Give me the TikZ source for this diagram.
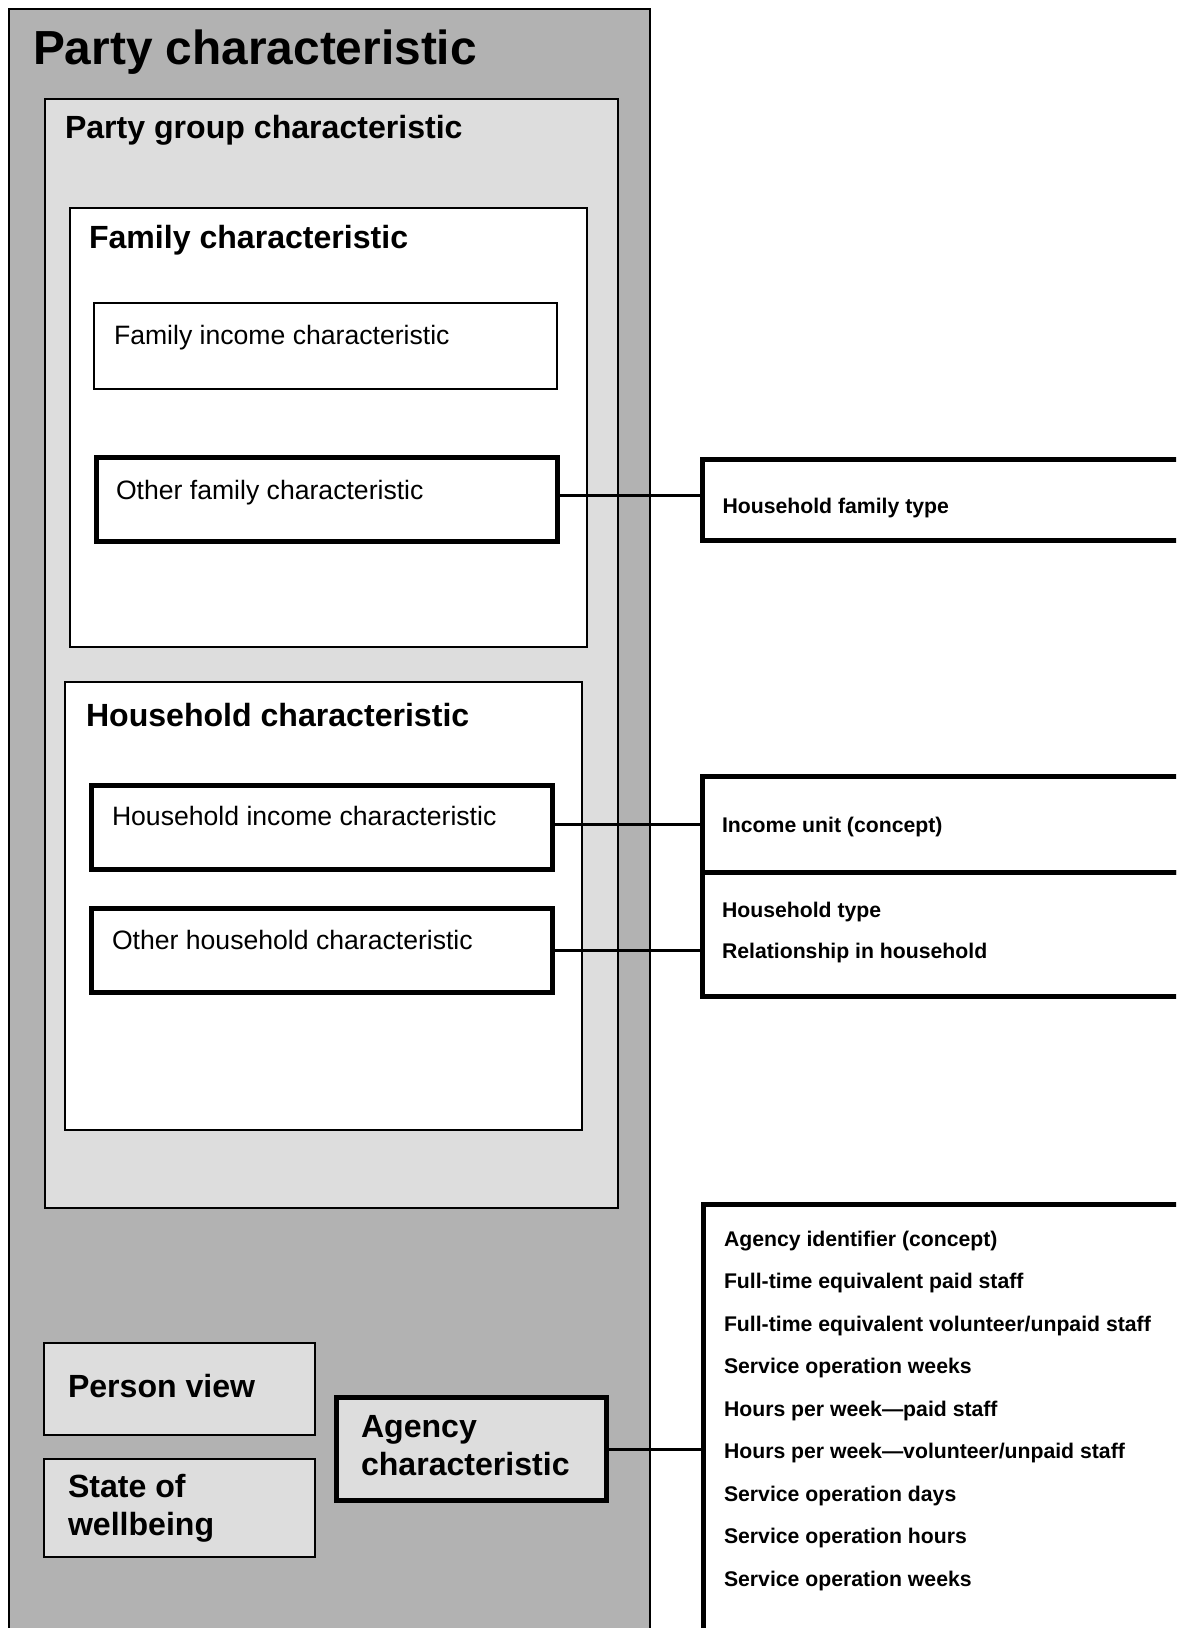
\documentclass[tikz,border=0pt]{standalone}
\usepackage{fontspec}
\setmainfont{Liberation Sans}
\definecolor{dgray}{HTML}{B2B2B2}
\definecolor{lgray}{HTML}{DDDDDD}
\tikzset{
  thinbox/.style={draw=black, line width=2bp, inner sep=0pt, outer sep=0pt, anchor=north west},
  thickbox/.style={draw=black, line width=5bp, inner sep=0pt, outer sep=0pt, anchor=north west},
  link/.style={draw=black, line width=3bp},
  lbl/.style={anchor=base west, inner sep=0pt, outer sep=0pt, align=left},
  tbig/.style={lbl, font=\fontsize{48}{56}\selectfont\bfseries},
  tmid/.style={lbl, font=\fontsize{32.2}{37.5}\selectfont\bfseries},
  treg/.style={lbl, font=\fontsize{26.7}{32}\selectfont},
  tsmall/.style={lbl, font=\fontsize{21.3}{41}\selectfont\bfseries},
  tlist/.style={lbl, font=\fontsize{21.3}{42.6}\selectfont\bfseries},
}
\begin{document}
\begin{tikzpicture}[x=1bp,y=-1bp]
\clip (0,0) rectangle (1176,1628);
\fill[white] (0,0) rectangle (1176,1628);
% nested containers
\node[thinbox, fill=dgray, minimum width=641bp, minimum height=1700bp] (outer) at (9,9) {};
\node[thinbox, fill=lgray, minimum width=573bp, minimum height=1109bp] (pgroup) at (45,99) {};
\node[thinbox, fill=white, minimum width=517bp, minimum height=439.5bp] (family) at (69.5,207.5) {};
\node[thinbox, fill=white, minimum width=463bp, minimum height=86bp] (faminc) at (94.4,303) {};
\node[thickbox, fill=white, minimum width=461bp, minimum height=84.5bp] (ofam) at (96,457) {};
\node[thinbox, fill=white, minimum width=517bp, minimum height=448bp] (house) at (65.4,682) {};
\node[thickbox, fill=white, minimum width=461bp, minimum height=84.5bp] (hhinc) at (91.8,785) {};
\node[thickbox, fill=white, minimum width=461bp, minimum height=84bp] (ohh) at (91.8,908.5) {};
\node[thinbox, fill=lgray, minimum width=271bp, minimum height=91.6bp] (person) at (43.6,1343) {};
\node[thinbox, fill=lgray, minimum width=271bp, minimum height=97.6bp] (state) at (43.6,1459.4) {};
\node[thickbox, fill=lgray, minimum width=270bp, minimum height=103bp] (agency) at (336.5,1397.5) {};
% right boxes
\node[thickbox, fill=white, minimum width=600bp, minimum height=81bp] (hft) at (702,459) {};
\node[thickbox, fill=white, minimum width=600bp, minimum height=96.5bp] (iu) at (702,776) {};
\node[thickbox, fill=white, minimum width=600bp, minimum height=123.5bp] (hht) at (702,872.5) {};
\node[thickbox, fill=white, minimum width=600bp, minimum height=600bp] (alist) at (703,1204.5) {};
% connectors
\draw[link] ([yshift=4bp]ofam.east) -- ([yshift=4bp]ofam.east -| hft.west);
\draw[link] (hhinc.east |- iu.center) -- (iu.west);
\draw[link] (ohh.east) -- (ohh.east -| hht.west);
\draw[link] (agency.east) -- (agency.east -| alist.west);
% labels (base anchor of a multi-line label = baseline of its last line)
\node[tbig] (tparty) at (33,65) {Party characteristic};
\node[tmid] (tpgroup) at (65,138) {Party group characteristic};
\node[tmid] (tfamily) at (89,248) {Family characteristic};
\node[treg] (tfaminc) at (114,344) {Family income characteristic};
\node[treg] (tofam) at (116,499) {Other family characteristic};
\node[tmid] (thouse) at (86,726) {Household characteristic};
\node[treg] (thhinc) at (112,825) {Household income characteristic};
\node[treg] (tohh) at (112,949) {Other household characteristic};
\node[tmid] (tperson) at (68,1397) {Person view};
\node[tmid] (tstate) at (68,1535) {State of\\wellbeing};
\node[tmid] (tagency) at (361,1475) {Agency\\characteristic};
\node[tsmall] (thft) at (722.5,513) {Household family type};
\node[tsmall] (tiu) at (722,832) {Income unit (concept)};
\node[tsmall] (thht) at (722,958) {Household type\\Relationship in household};
\node[tlist] (talist) at (724,1586) {Agency identifier (concept)\\Full-time equivalent paid staff\\Full-time equivalent volunteer/unpaid staff\\Service operation weeks\\Hours per week—paid staff\\Hours per week—volunteer/unpaid staff\\Service operation days\\Service operation hours\\Service operation weeks};
\end{tikzpicture}
\end{document}
